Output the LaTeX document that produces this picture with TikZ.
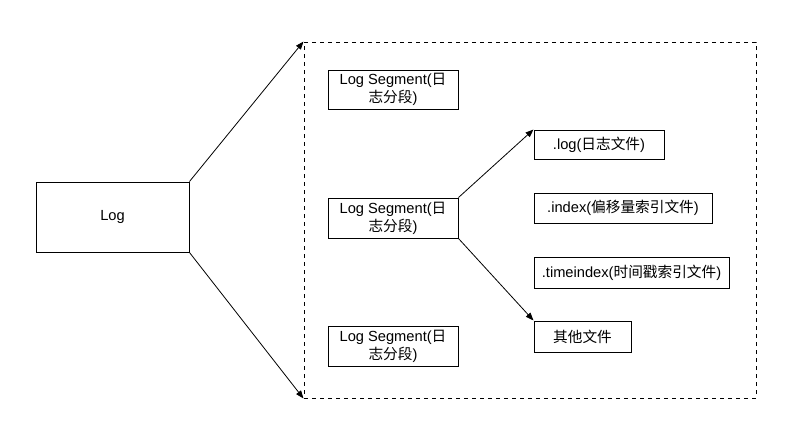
\documentclass[tikz,border=0pt]{standalone}
\usepackage{fontspec}
\setmainfont{Liberation Sans}
\newfontfamily\cjk{Noto Sans CJK SC}
\usetikzlibrary{arrows.meta}
\newcommand{\zh}[1]{{\cjk #1}}
\begin{document}
\begin{tikzpicture}[x=0.75pt,y=-0.75pt,
  box/.style={draw,line width=0.75pt,inner sep=0pt,font=\fontsize{11pt}{13.5pt}\selectfont,align=center},
  conn/.style={line width=0.6pt,-{Triangle[length=6pt,width=4.5pt]}}]
\useasboundingbox (0,0) rectangle (803,437);
\node[box,minimum width=153*0.75pt,minimum height=70*0.75pt] (log) at (112.5,217) {Log};
\node[draw,dashed,line width=0.75pt,minimum width=452*0.75pt,minimum height=356*0.75pt,inner sep=0pt] (frame) at (530,220) {};
\node[box,minimum width=130*0.75pt,minimum height=39*0.75pt] (s1) at (393,89.5) {Log Segment(\zh{日}\\\zh{志分段})};
\node[box,minimum width=130*0.75pt,minimum height=40*0.75pt] (s2) at (393,218) {Log Segment(\zh{日}\\\zh{志分段})};
\node[box,minimum width=130*0.75pt,minimum height=40*0.75pt] (s3) at (393,346) {Log Segment(\zh{日}\\\zh{志分段})};
\node[box,minimum width=130*0.75pt,minimum height=29*0.75pt] (f1) at (599,144.5) {.log(\zh{日志文件})};
\node[box,minimum width=178*0.75pt,minimum height=30*0.75pt] (f2) at (623,208) {.index(\zh{偏移量索引文件})};
\node[box,minimum width=195*0.75pt,minimum height=31*0.75pt] (f3) at (631.5,272.5) {.timeindex(\zh{时间戳索引文件})};
\node[box,minimum width=97*0.75pt,minimum height=31*0.75pt] (f4) at (582.5,336.5) {\zh{其他文件}};
\draw[conn] (log.north east) -- (frame.north west);
\draw[conn] (log.south east) -- (frame.south west);
\draw[conn] (s2.north east) -- (f1.north west);
\draw[conn] (s2.south east) -- (f4.north west);
\end{tikzpicture}
\end{document}
